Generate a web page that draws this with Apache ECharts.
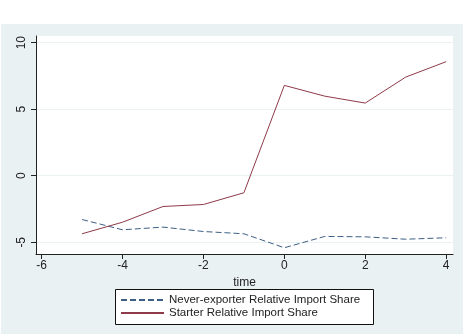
<!DOCTYPE html>
<html>
<head>
<meta charset="utf-8">
<script src="https://cdn.jsdelivr.net/npm/echarts@6/dist/echarts.min.js"></script>
<style>
  html, body { margin: 0; padding: 0; background: #fff; }
  #chart { width: 463px; height: 334px; }
</style>
</head>
<body>
<div id="chart"></div>
<script>
// datos
const timeVals = [-5, -4, -3, -2, -1, 0, 1, 2, 3, 4]
const neverExporter = [-3.29, -4.06, -3.86, -4.19, -4.36, -5.41, -4.56, -4.59, -4.77, -4.66]
const starter = [-4.36, -3.49, -2.31, -2.16, -1.28, 6.79, 5.98, 5.46, 7.41, 8.57]
const xTicks = [-6, -4, -2, 0, 2, 4]
const yTicks = [-5, 0, 5, 10]

const nameNever = 'Never-exporter Relative Import Share'
const nameStarter = 'Starter Relative Import Share'

const font = '"Liberation Sans", Arial, sans-serif'

const chart = echarts.init(document.getElementById('chart'))

chart.setOption({
  backgroundColor: '#ffffff',
  animation: false,
  graphic: [
    { type: 'rect', left: 1, top: 24, z: -10, shape: { width: 462, height: 310 }, style: { fill: '#eaf1f3' } },
    { type: 'rect', left: 115, top: 289, z: 0, shape: { width: 258, height: 35 }, style: { fill: '#ffffff', stroke: '#111', lineWidth: 1 } }
  ],
  grid: {
    left: 36, right: 10, top: 36, bottom: 80,
    show: true, backgroundColor: '#ffffff', borderWidth: 0
  },
  legend: {
    orient: 'vertical',
    left: 118, top: 289,
    padding: [5, 4, 2, 2],
    itemWidth: 43, itemHeight: 14, itemGap: 1,
    itemStyle: { opacity: 0, borderWidth: 0 },
    textStyle: { fontFamily: font, fontSize: 11.5, color: '#222' },
    data: [nameNever, nameStarter],
    z: 5
  },
  xAxis: {
    type: 'value',
    min: -6.14, max: 4.17,
    name: 'time', nameLocation: 'middle', nameGap: 8,
    nameTextStyle: { fontFamily: font, fontSize: 12, color: '#222' },
    axisLine: { show: true, onZero: false, lineStyle: { color: '#222', width: 1 } },
    axisTick: { show: true, length: 5, customValues: xTicks, lineStyle: { color: '#222' } },
    axisLabel: { customValues: xTicks, margin: 6, fontFamily: font, fontSize: 12, color: '#222' },
    splitLine: { show: false }
  },
  yAxis: {
    type: 'value',
    min: -5.88, max: 10.5,
    axisLine: { show: true, onZero: false, lineStyle: { color: '#222', width: 1 } },
    axisTick: { show: true, length: 5, customValues: yTicks, lineStyle: { color: '#222' } },
    axisLabel: { customValues: yTicks, rotate: 90, margin: 8, fontFamily: font, fontSize: 12, color: '#222' },
    splitLine: { show: true, lineStyle: { color: '#eaf1f3', width: 1 } }
  },
  series: [
    {
      name: nameNever,
      type: 'line',
      symbol: 'none',
      data: timeVals.map((t, i) => [t, neverExporter[i]]),
      lineStyle: { color: '#3d5f85', width: 1, type: [6, 3] },
      itemStyle: { color: '#3d5f85' }
    },
    {
      name: nameStarter,
      type: 'line',
      symbol: 'none',
      data: timeVals.map((t, i) => [t, starter[i]]),
      lineStyle: { color: '#8e3a48', width: 1 },
      itemStyle: { color: '#8e3a48' }
    }
  ]
})
</script>
</body>
</html>
